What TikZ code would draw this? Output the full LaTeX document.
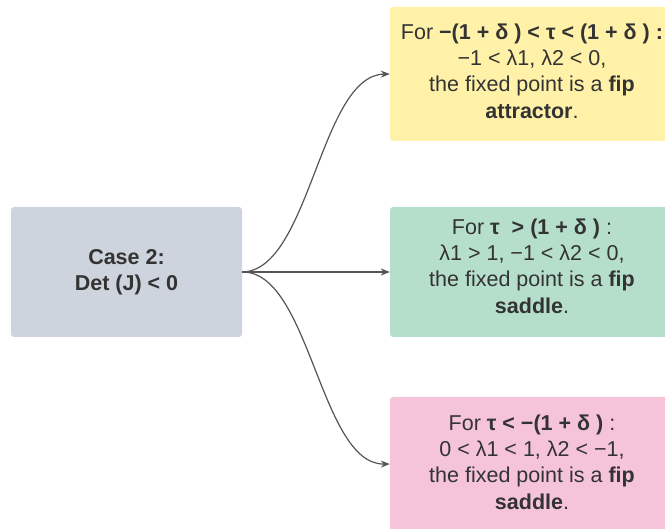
\documentclass[tikz,border=0pt]{standalone}
\usepackage{fontspec}
\setmainfont{Liberation Sans}
\usetikzlibrary{arrows.meta}
\definecolor{txt}{HTML}{333333}
\definecolor{cgray}{HTML}{CED4DD}
\definecolor{cyel}{HTML}{FFF1A8}
\definecolor{cgreen}{HTML}{B6DFCB}
\definecolor{cpink}{HTML}{F5C3DA}
\definecolor{cline}{HTML}{555555}
\begin{document}
\begin{tikzpicture}[x=1pt,y=-1pt,
  box/.style={rounded corners=3pt, inner sep=0pt},
  lbl/.style={inner sep=0pt, align=center, text=txt,
    font=\fontsize{21.5}{26.3}\selectfont},
  conn/.style={draw=cline, line width=1.2pt, -{Stealth[length=9pt,width=7pt]}}]
\useasboundingbox (0,0) rectangle (665,529);
\node[box, fill=cgray, minimum width=231pt, minimum height=130pt] (src) at (126.5,272) {};
\node[box, fill=cyel, minimum width=286pt, minimum height=134pt] (top) at (533,74) {};
\node[box, fill=cgreen, minimum width=286pt, minimum height=130pt] (mid) at (533,272) {};
\node[box, fill=cpink, minimum width=286pt, minimum height=134pt] (bot) at (533,464) {};
\node[lbl] (srct) at ([yshift=0pt]src.center) {\textbf{Case 2:}\\ \textbf{Det (J) < 0}};
\node[lbl] (topt) at ([xshift=-1pt,yshift=3pt]top.center)
  {For \textbf{−(1 + δ ) < τ < (1 + δ ) :}\\
   −1 < λ1, λ2 < 0,\\ the fixed point is a \textbf{fip}\\ \textbf{attractor}.};
\node[lbl] (midt) at ([xshift=-1pt,yshift=6pt]mid.center)
  {For \textbf{τ~ > (1 + δ )} :\\ λ1 > 1, −1 < λ2 < 0,\\ the fixed point is a \textbf{fip}\\ \textbf{saddle}.};
\node[lbl] (bott) at ([xshift=-1pt,yshift=2pt]bot.center)
  {For \textbf{τ < −(1 + δ )} :\\ 0 < λ1 < 1, λ2 < −1,\\ the fixed point is a \textbf{fip}\\ \textbf{saddle}.};
\draw[conn] (src.east) .. controls (310,271) and (320,75) .. (top.west);
\draw[conn] (src.east) -- (mid.west);
\draw[conn] (src.east) .. controls (310,271) and (320,465) .. (bot.west);
\end{tikzpicture}
\end{document}
